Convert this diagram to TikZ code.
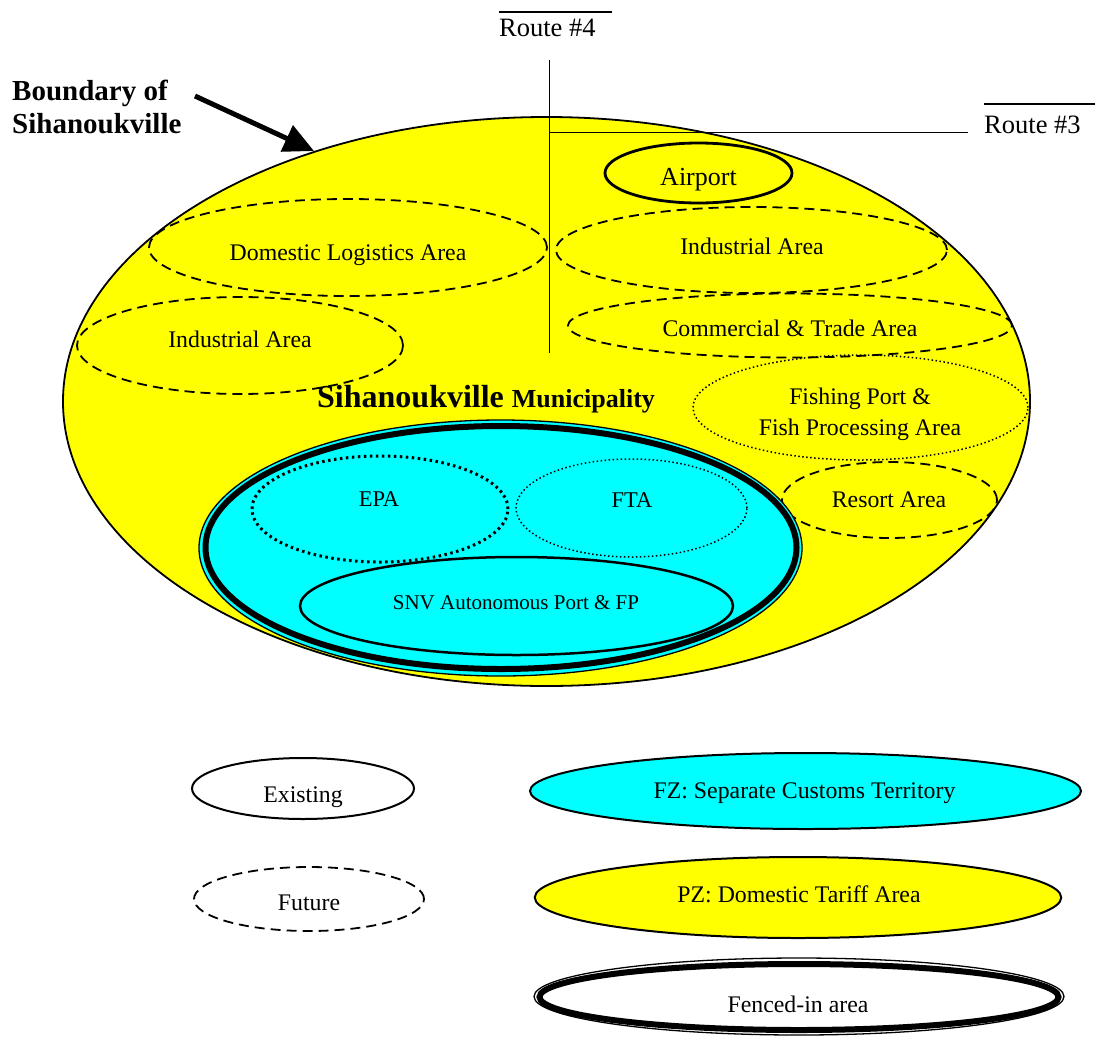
\documentclass[tikz,border=0pt]{standalone}
\usepackage{fontspec}
\setmainfont{Liberation Serif}
\usetikzlibrary{shapes.geometric,arrows.meta}
\definecolor{pzyellow}{RGB}{255,255,0}
\definecolor{fzcyan}{RGB}{0,255,255}
\begin{document}
\begin{tikzpicture}[x=1pt,y=-1pt,
  area/.style={ellipse, inner sep=0pt, outer sep=0pt},
  solidarea/.style={area, draw, line width=2pt},
  futurearea/.style={area, draw, line width=1.8pt, dash pattern=on 10pt off 6pt},
  finedot/.style={area, draw, line width=1.5pt, dash pattern=on 1.5pt off 2.5pt},
  heavydot/.style={area, draw, line width=3pt, dash pattern=on 2.5pt off 3.5pt},
  lbl/.style={inner sep=0pt, anchor=base, font=\fontsize{23.8}{31}\selectfont},
  road/.style={line width=1.5pt},
  overbar/.style={line width=1.8pt},
]
\useasboundingbox (0,0) rectangle (1095,1061);

% municipality boundary
\node[area, draw, fill=pzyellow, line width=1.8pt, minimum width=967pt, minimum height=569pt] (main) at (546.5,401.5) {};

% routes
\coordinate (r4top) at (549.6,60);
\coordinate (r4bot) at (549.6,353);
\coordinate (r3start) at (549.6,132.5);
\coordinate (r3end) at (968,132.5);
\draw[road] (r4top) -- (r4bot);
\draw[road] (r3start) -- (r3end);
\node[lbl, anchor=base west, font=\fontsize{26.5}{30}\selectfont] (r4lbl) at (499,36) {Route \#4};
\node[lbl, anchor=base west, font=\fontsize{26.5}{30}\selectfont] (r3lbl) at (984,133) {Route \#3};
\coordinate (r4ovl) at (499,12);
\coordinate (r4ovr) at (612,12);
\coordinate (r3ovl) at (984,104);
\coordinate (r3ovr) at (1095,104);
\draw[overbar] (r4ovl) -- (r4ovr);
\draw[overbar] (r3ovl) -- (r3ovr);

% boundary label and arrow
\node[lbl, anchor=base west, font=\bfseries\fontsize{29}{33}\selectfont] (bnd1) at (12,100) {Boundary of};
\node[lbl, anchor=base west, font=\bfseries\fontsize{29}{33}\selectfont] (bnd2) at (12,133) {Sihanoukville};
\coordinate (tail) at (195,96);
\coordinate (tip) at (314,151);
\draw[line width=5pt, -{Triangle[length=30pt,width=28pt]}] (tail) -- (tip);

% areas in the municipality
\node[solidarea, line width=2.8pt, minimum width=187pt, minimum height=60pt] (airport) at (698.5,173) {};
\node[lbl, font=\fontsize{26}{30}\selectfont] (airportlbl) at (698.5,185) {Airport};

\node[futurearea, minimum width=398pt, minimum height=97pt] (dom) at (348,247.5) {};
\node[lbl] (domlbl) at (348,260) {Domestic Logistics Area};

\node[futurearea, minimum width=391pt, minimum height=86pt] (indr) at (751.5,250) {};
\node[lbl] (indrlbl) at (752,254) {Industrial Area};

\node[futurearea, minimum width=326pt, minimum height=97pt] (indl) at (240,345.5) {};
\node[lbl] (indllbl) at (240,347) {Industrial Area};

\node[futurearea, minimum width=444pt, minimum height=64pt] (comm) at (790,325.5) {};
\node[lbl] (commlbl) at (790,336) {Commercial \& Trade Area};

\node[finedot, minimum width=335pt, minimum height=105pt] (fish) at (860.5,407.5) {};
\node[lbl] (fishlbl1) at (860,404) {Fishing Port \&};
\node[lbl] (fishlbl2) at (860,435) {Fish Processing Area};

\node[futurearea, minimum width=215pt, minimum height=76pt] (resort) at (889.5,500) {};
\node[lbl] (resortlbl) at (889,507) {Resort Area};

\node[lbl, anchor=base west] (muni) at (317,407) {\bfseries\fontsize{32}{36}\selectfont Sihanoukville \fontsize{26}{30}\selectfont Municipality};

% fenced-in free zone
\node[area, draw, fill=fzcyan, line width=1.3pt, minimum width=603pt, minimum height=256pt] (fence) at (500.5,548) {};
\node[area, draw, line width=6pt, minimum width=591pt, minimum height=243pt] (fenceinner) at (501,547.5) {};

\node[heavydot, minimum width=256pt, minimum height=106pt] (epa) at (380,509) {};
\node[lbl, font=\fontsize{22.5}{27}\selectfont] (epalbl) at (379,506) {EPA};

\node[finedot, minimum width=231pt, minimum height=98pt] (fta) at (631.5,508) {};
\node[lbl, font=\fontsize{22.5}{27}\selectfont] (ftalbl) at (632,507) {FTA};

\node[solidarea, line width=2.5pt, minimum width=433pt, minimum height=98pt] (snv) at (516.5,606) {};
\node[lbl, font=\fontsize{21}{25}\selectfont] (snvlbl) at (516,609) {SNV Autonomous Port \& FP};

% legend
\node[solidarea, minimum width=222pt, minimum height=61pt] (exist) at (303,788.5) {};
\node[lbl] (existlbl) at (303,802) {Existing};

\node[futurearea, minimum width=230pt, minimum height=64pt] (future) at (309,899) {};
\node[lbl] (futurelbl) at (309,910) {Future};

\node[solidarea, fill=fzcyan, minimum width=551pt, minimum height=76pt] (fz) at (805.5,791) {};
\node[lbl] (fzlbl) at (804.5,798) {FZ: Separate Customs Territory};

\node[solidarea, fill=pzyellow, minimum width=526.5pt, minimum height=81pt] (pz) at (798,897.5) {};
\node[lbl] (pzlbl) at (799,902) {PZ: Domestic Tariff Area};

\node[area, draw, line width=1.3pt, minimum width=530pt, minimum height=77pt] (fenced) at (799,996.5) {};
\node[area, draw, line width=6pt, minimum width=519pt, minimum height=66pt] (fencedinner) at (799,997) {};
\node[lbl] (fencedlbl) at (798,1012) {Fenced-in area};
\end{tikzpicture}
\end{document}
